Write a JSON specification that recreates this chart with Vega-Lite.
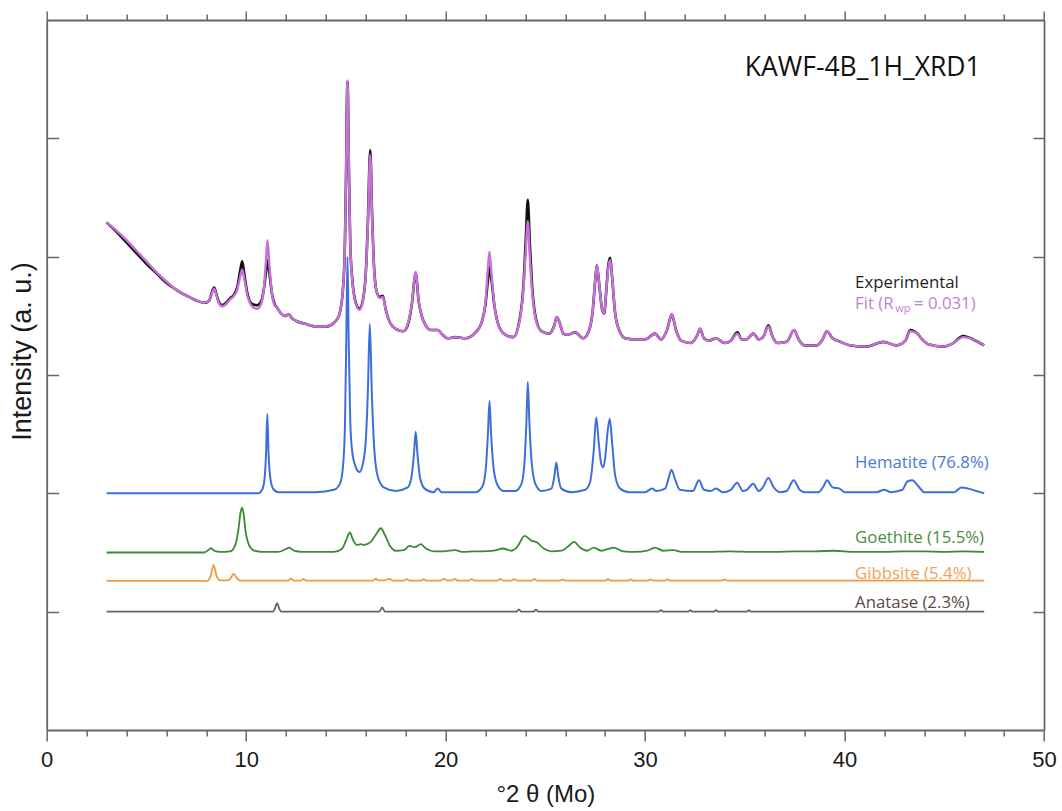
{
  "$schema": "https://vega.github.io/schema/vega-lite/v6.json",
  "width": 997.3,
  "height": 710,
  "autosize": "none",
  "padding": {"left": 46.7, "top": 20, "right": 18, "bottom": 81},
  "background": "white",
  "config": {"view": {"stroke": null}, "axis": {"grid": false}},
  "datasets": {
    "exp": [
      {"x":3.0,"y":4.29},{"x":3.5,"y":4.21},{"x":4.0,"y":4.12},{"x":4.5,"y":4.03},{"x":5.0,"y":3.94},{"x":5.5,"y":3.86},{"x":6.0,"y":3.78},{"x":6.5,"y":3.72},{"x":7.0,"y":3.67},{"x":7.5,"y":3.63},{"x":7.9,"y":3.61},{"x":8.15,"y":3.63},{"x":8.3,"y":3.71},{"x":8.4,"y":3.74},{"x":8.5,"y":3.69},{"x":8.65,"y":3.61},{"x":8.8,"y":3.59},{"x":9.0,"y":3.61},{"x":9.2,"y":3.65},{"x":9.35,"y":3.67},{"x":9.55,"y":3.74},{"x":9.7,"y":3.88},{"x":9.8,"y":3.96},{"x":9.9,"y":3.86},{"x":10.05,"y":3.70},{"x":10.3,"y":3.60},{"x":10.55,"y":3.59},{"x":10.75,"y":3.62},{"x":10.9,"y":3.74},{"x":11.0,"y":3.88},{"x":11.07,"y":3.97},{"x":11.15,"y":3.88},{"x":11.3,"y":3.68},{"x":11.45,"y":3.59},{"x":11.55,"y":3.57},{"x":11.7,"y":3.53},{"x":11.95,"y":3.50},{"x":12.12,"y":3.51},{"x":12.3,"y":3.48},{"x":12.6,"y":3.45},{"x":13.0,"y":3.43},{"x":13.5,"y":3.41},{"x":14.0,"y":3.41},{"x":14.4,"y":3.44},{"x":14.65,"y":3.50},{"x":14.85,"y":3.72},{"x":14.95,"y":4.10},{"x":15.0,"y":4.60},{"x":15.08,"y":5.48},{"x":15.16,"y":4.65},{"x":15.22,"y":4.10},{"x":15.32,"y":3.81},{"x":15.5,"y":3.61},{"x":15.68,"y":3.56},{"x":15.85,"y":3.63},{"x":16.0,"y":3.87},{"x":16.1,"y":4.28},{"x":16.22,"y":4.90},{"x":16.32,"y":4.32},{"x":16.42,"y":3.89},{"x":16.55,"y":3.70},{"x":16.7,"y":3.66},{"x":16.85,"y":3.67},{"x":17.0,"y":3.55},{"x":17.22,"y":3.44},{"x":17.5,"y":3.39},{"x":17.88,"y":3.37},{"x":18.1,"y":3.42},{"x":18.3,"y":3.59},{"x":18.5,"y":3.86},{"x":18.65,"y":3.62},{"x":18.8,"y":3.50},{"x":19.0,"y":3.42},{"x":19.25,"y":3.38},{"x":19.6,"y":3.38},{"x":19.85,"y":3.34},{"x":20.1,"y":3.31},{"x":20.5,"y":3.32},{"x":21.0,"y":3.31},{"x":21.5,"y":3.36},{"x":21.8,"y":3.44},{"x":22.0,"y":3.60},{"x":22.12,"y":3.80},{"x":22.2,"y":3.91},{"x":22.3,"y":3.80},{"x":22.45,"y":3.58},{"x":22.7,"y":3.40},{"x":23.0,"y":3.34},{"x":23.4,"y":3.32},{"x":23.7,"y":3.46},{"x":23.9,"y":3.75},{"x":24.02,"y":4.15},{"x":24.12,"y":4.48},{"x":24.22,"y":4.12},{"x":24.35,"y":3.72},{"x":24.55,"y":3.46},{"x":24.8,"y":3.37},{"x":25.2,"y":3.35},{"x":25.45,"y":3.42},{"x":25.57,"y":3.49},{"x":25.72,"y":3.44},{"x":25.9,"y":3.35},{"x":26.1,"y":3.34},{"x":26.5,"y":3.36},{"x":26.9,"y":3.31},{"x":27.2,"y":3.38},{"x":27.38,"y":3.55},{"x":27.5,"y":3.80},{"x":27.58,"y":3.93},{"x":27.68,"y":3.80},{"x":27.85,"y":3.55},{"x":27.95,"y":3.52},{"x":28.05,"y":3.70},{"x":28.15,"y":3.92},{"x":28.25,"y":3.99},{"x":28.35,"y":3.82},{"x":28.5,"y":3.52},{"x":28.7,"y":3.38},{"x":29.0,"y":3.31},{"x":29.5,"y":3.30},{"x":30.0,"y":3.30},{"x":30.5,"y":3.35},{"x":30.8,"y":3.30},{"x":31.1,"y":3.38},{"x":31.34,"y":3.51},{"x":31.55,"y":3.38},{"x":31.8,"y":3.29},{"x":32.3,"y":3.27},{"x":32.6,"y":3.33},{"x":32.76,"y":3.39},{"x":32.95,"y":3.31},{"x":33.2,"y":3.29},{"x":33.55,"y":3.31},{"x":34.0,"y":3.27},{"x":34.3,"y":3.29},{"x":34.63,"y":3.36},{"x":34.85,"y":3.30},{"x":35.05,"y":3.30},{"x":35.43,"y":3.35},{"x":35.7,"y":3.30},{"x":35.95,"y":3.33},{"x":36.18,"y":3.42},{"x":36.4,"y":3.32},{"x":36.65,"y":3.27},{"x":37.1,"y":3.28},{"x":37.47,"y":3.38},{"x":37.7,"y":3.30},{"x":38.0,"y":3.25},{"x":38.6,"y":3.25},{"x":38.9,"y":3.30},{"x":39.11,"y":3.37},{"x":39.4,"y":3.31},{"x":39.8,"y":3.28},{"x":40.3,"y":3.25},{"x":41.1,"y":3.24},{"x":41.95,"y":3.28},{"x":42.6,"y":3.25},{"x":43.05,"y":3.29},{"x":43.3,"y":3.38},{"x":43.65,"y":3.35},{"x":43.9,"y":3.30},{"x":44.2,"y":3.26},{"x":44.95,"y":3.24},{"x":45.45,"y":3.27},{"x":45.95,"y":3.33},{"x":46.45,"y":3.30},{"x":47.0,"y":3.25}
    ],
    "fit": [
      {"x":3.0,"y":4.29},{"x":3.5,"y":4.22},{"x":4.0,"y":4.14},{"x":4.5,"y":4.05},{"x":5.0,"y":3.96},{"x":5.5,"y":3.87},{"x":6.0,"y":3.79},{"x":6.5,"y":3.72},{"x":7.0,"y":3.67},{"x":7.5,"y":3.63},{"x":7.9,"y":3.61},{"x":8.15,"y":3.63},{"x":8.3,"y":3.70},{"x":8.4,"y":3.73},{"x":8.5,"y":3.68},{"x":8.65,"y":3.60},{"x":8.8,"y":3.58},{"x":9.0,"y":3.60},{"x":9.2,"y":3.64},{"x":9.35,"y":3.66},{"x":9.55,"y":3.72},{"x":9.7,"y":3.83},{"x":9.8,"y":3.89},{"x":9.9,"y":3.82},{"x":10.05,"y":3.68},{"x":10.3,"y":3.58},{"x":10.55,"y":3.56},{"x":10.75,"y":3.60},{"x":10.9,"y":3.75},{"x":11.0,"y":3.98},{"x":11.07,"y":4.14},{"x":11.15,"y":3.96},{"x":11.3,"y":3.68},{"x":11.45,"y":3.58},{"x":11.55,"y":3.57},{"x":11.7,"y":3.53},{"x":11.95,"y":3.50},{"x":12.12,"y":3.51},{"x":12.3,"y":3.48},{"x":12.6,"y":3.45},{"x":13.0,"y":3.43},{"x":13.5,"y":3.41},{"x":14.0,"y":3.41},{"x":14.4,"y":3.44},{"x":14.65,"y":3.50},{"x":14.85,"y":3.72},{"x":14.95,"y":4.10},{"x":15.0,"y":4.60},{"x":15.08,"y":5.49},{"x":15.16,"y":4.65},{"x":15.22,"y":4.10},{"x":15.32,"y":3.80},{"x":15.5,"y":3.60},{"x":15.68,"y":3.55},{"x":15.85,"y":3.62},{"x":16.0,"y":3.86},{"x":16.1,"y":4.25},{"x":16.22,"y":4.86},{"x":16.32,"y":4.30},{"x":16.42,"y":3.88},{"x":16.55,"y":3.70},{"x":16.7,"y":3.65},{"x":16.85,"y":3.66},{"x":17.0,"y":3.55},{"x":17.22,"y":3.44},{"x":17.5,"y":3.39},{"x":17.88,"y":3.37},{"x":18.1,"y":3.43},{"x":18.3,"y":3.60},{"x":18.5,"y":3.87},{"x":18.65,"y":3.62},{"x":18.8,"y":3.50},{"x":19.0,"y":3.42},{"x":19.25,"y":3.38},{"x":19.6,"y":3.38},{"x":19.85,"y":3.34},{"x":20.1,"y":3.31},{"x":20.5,"y":3.32},{"x":21.0,"y":3.31},{"x":21.5,"y":3.36},{"x":21.8,"y":3.44},{"x":22.0,"y":3.62},{"x":22.12,"y":3.90},{"x":22.2,"y":4.04},{"x":22.3,"y":3.85},{"x":22.45,"y":3.58},{"x":22.7,"y":3.40},{"x":23.0,"y":3.34},{"x":23.4,"y":3.32},{"x":23.7,"y":3.45},{"x":23.9,"y":3.72},{"x":24.02,"y":4.05},{"x":24.12,"y":4.30},{"x":24.22,"y":4.00},{"x":24.35,"y":3.68},{"x":24.55,"y":3.45},{"x":24.8,"y":3.37},{"x":25.2,"y":3.35},{"x":25.45,"y":3.42},{"x":25.57,"y":3.49},{"x":25.72,"y":3.44},{"x":25.9,"y":3.35},{"x":26.1,"y":3.34},{"x":26.5,"y":3.36},{"x":26.9,"y":3.31},{"x":27.2,"y":3.38},{"x":27.38,"y":3.55},{"x":27.5,"y":3.80},{"x":27.58,"y":3.93},{"x":27.68,"y":3.80},{"x":27.85,"y":3.55},{"x":27.95,"y":3.52},{"x":28.05,"y":3.70},{"x":28.15,"y":3.90},{"x":28.25,"y":3.97},{"x":28.35,"y":3.82},{"x":28.5,"y":3.52},{"x":28.7,"y":3.38},{"x":29.0,"y":3.31},{"x":29.5,"y":3.30},{"x":30.0,"y":3.30},{"x":30.5,"y":3.35},{"x":30.8,"y":3.30},{"x":31.1,"y":3.38},{"x":31.34,"y":3.51},{"x":31.55,"y":3.38},{"x":31.8,"y":3.29},{"x":32.3,"y":3.27},{"x":32.6,"y":3.33},{"x":32.76,"y":3.39},{"x":32.95,"y":3.31},{"x":33.2,"y":3.29},{"x":33.55,"y":3.31},{"x":34.0,"y":3.27},{"x":34.3,"y":3.29},{"x":34.63,"y":3.35},{"x":34.85,"y":3.30},{"x":35.05,"y":3.30},{"x":35.43,"y":3.35},{"x":35.7,"y":3.30},{"x":35.95,"y":3.33},{"x":36.18,"y":3.41},{"x":36.4,"y":3.32},{"x":36.65,"y":3.27},{"x":37.1,"y":3.28},{"x":37.47,"y":3.38},{"x":37.7,"y":3.30},{"x":38.0,"y":3.25},{"x":38.6,"y":3.25},{"x":38.9,"y":3.30},{"x":39.11,"y":3.37},{"x":39.4,"y":3.31},{"x":39.8,"y":3.28},{"x":40.3,"y":3.25},{"x":41.1,"y":3.24},{"x":41.95,"y":3.28},{"x":42.6,"y":3.25},{"x":43.05,"y":3.29},{"x":43.3,"y":3.37},{"x":43.65,"y":3.35},{"x":43.9,"y":3.30},{"x":44.2,"y":3.26},{"x":44.95,"y":3.24},{"x":45.45,"y":3.27},{"x":45.95,"y":3.32},{"x":46.45,"y":3.30},{"x":47.0,"y":3.25}
    ],
    "hematite": [
      {"x":3.0,"y":2.0},{"x":10.6,"y":2.0},{"x":10.8,"y":2.03},{"x":10.92,"y":2.12},{"x":11.0,"y":2.35},{"x":11.06,"y":2.67},{"x":11.12,"y":2.35},{"x":11.22,"y":2.12},{"x":11.35,"y":2.04},{"x":11.6,"y":2.01},{"x":13.5,"y":2.01},{"x":14.4,"y":2.03},{"x":14.7,"y":2.08},{"x":14.85,"y":2.22},{"x":14.95,"y":2.55},{"x":15.02,"y":3.30},{"x":15.08,"y":4.0},{"x":15.14,"y":3.30},{"x":15.22,"y":2.60},{"x":15.32,"y":2.35},{"x":15.5,"y":2.22},{"x":15.68,"y":2.18},{"x":15.85,"y":2.25},{"x":16.0,"y":2.45},{"x":16.1,"y":2.85},{"x":16.2,"y":3.43},{"x":16.3,"y":2.85},{"x":16.42,"y":2.38},{"x":16.6,"y":2.14},{"x":16.9,"y":2.05},{"x":17.5,"y":2.02},{"x":18.1,"y":2.05},{"x":18.3,"y":2.15},{"x":18.42,"y":2.35},{"x":18.5,"y":2.52},{"x":18.58,"y":2.35},{"x":18.72,"y":2.13},{"x":18.95,"y":2.04},{"x":19.4,"y":2.01},{"x":19.6,"y":2.04},{"x":19.8,"y":2.01},{"x":21.5,"y":2.01},{"x":21.85,"y":2.06},{"x":22.02,"y":2.22},{"x":22.12,"y":2.50},{"x":22.2,"y":2.78},{"x":22.28,"y":2.50},{"x":22.4,"y":2.22},{"x":22.6,"y":2.07},{"x":22.9,"y":2.02},{"x":23.5,"y":2.02},{"x":23.8,"y":2.08},{"x":23.95,"y":2.25},{"x":24.05,"y":2.60},{"x":24.12,"y":2.94},{"x":24.2,"y":2.60},{"x":24.32,"y":2.25},{"x":24.5,"y":2.08},{"x":24.8,"y":2.02},{"x":25.3,"y":2.04},{"x":25.45,"y":2.14},{"x":25.55,"y":2.26},{"x":25.65,"y":2.14},{"x":25.8,"y":2.04},{"x":26.3,"y":2.01},{"x":27.0,"y":2.03},{"x":27.25,"y":2.10},{"x":27.42,"y":2.35},{"x":27.55,"y":2.64},{"x":27.68,"y":2.42},{"x":27.8,"y":2.25},{"x":27.9,"y":2.22},{"x":28.0,"y":2.30},{"x":28.12,"y":2.52},{"x":28.23,"y":2.63},{"x":28.35,"y":2.42},{"x":28.5,"y":2.15},{"x":28.75,"y":2.04},{"x":29.2,"y":2.01},{"x":30.0,"y":2.01},{"x":30.35,"y":2.04},{"x":30.55,"y":2.02},{"x":31.0,"y":2.04},{"x":31.2,"y":2.14},{"x":31.32,"y":2.20},{"x":31.5,"y":2.12},{"x":31.75,"y":2.03},{"x":32.4,"y":2.02},{"x":32.7,"y":2.11},{"x":32.95,"y":2.03},{"x":33.3,"y":2.02},{"x":33.55,"y":2.04},{"x":33.9,"y":2.01},{"x":34.3,"y":2.03},{"x":34.62,"y":2.09},{"x":34.9,"y":2.02},{"x":35.1,"y":2.03},{"x":35.42,"y":2.08},{"x":35.7,"y":2.02},{"x":35.9,"y":2.05},{"x":36.18,"y":2.13},{"x":36.45,"y":2.05},{"x":36.75,"y":2.01},{"x":37.1,"y":2.02},{"x":37.45,"y":2.11},{"x":37.75,"y":2.03},{"x":38.0,"y":2.01},{"x":38.7,"y":2.01},{"x":38.95,"y":2.06},{"x":39.12,"y":2.11},{"x":39.4,"y":2.05},{"x":39.75,"y":2.04},{"x":40.0,"y":2.01},{"x":41.6,"y":2.01},{"x":42.0,"y":2.03},{"x":42.3,"y":2.01},{"x":42.9,"y":2.03},{"x":43.15,"y":2.10},{"x":43.4,"y":2.11},{"x":43.7,"y":2.06},{"x":44.0,"y":2.01},{"x":45.5,"y":2.01},{"x":45.85,"y":2.05},{"x":46.2,"y":2.04},{"x":46.6,"y":2.02},{"x":47.0,"y":2.0}
    ],
    "goethite": [
      {"x":3.0,"y":1.5},{"x":7.9,"y":1.5},{"x":8.1,"y":1.52},{"x":8.23,"y":1.537},{"x":8.4,"y":1.515},{"x":8.7,"y":1.505},{"x":9.2,"y":1.51},{"x":9.45,"y":1.56},{"x":9.6,"y":1.68},{"x":9.72,"y":1.84},{"x":9.79,"y":1.88},{"x":9.86,"y":1.84},{"x":9.97,"y":1.68},{"x":10.15,"y":1.56},{"x":10.4,"y":1.515},{"x":10.8,"y":1.505},{"x":11.6,"y":1.505},{"x":11.95,"y":1.525},{"x":12.16,"y":1.542},{"x":12.4,"y":1.515},{"x":12.8,"y":1.505},{"x":14.4,"y":1.505},{"x":14.8,"y":1.53},{"x":15.05,"y":1.62},{"x":15.2,"y":1.67},{"x":15.35,"y":1.61},{"x":15.55,"y":1.565},{"x":15.75,"y":1.57},{"x":15.91,"y":1.565},{"x":16.25,"y":1.59},{"x":16.5,"y":1.65},{"x":16.76,"y":1.705},{"x":16.95,"y":1.65},{"x":17.2,"y":1.56},{"x":17.5,"y":1.515},{"x":17.9,"y":1.52},{"x":18.19,"y":1.556},{"x":18.45,"y":1.545},{"x":18.76,"y":1.57},{"x":19.0,"y":1.535},{"x":19.4,"y":1.51},{"x":19.9,"y":1.51},{"x":20.46,"y":1.52},{"x":20.9,"y":1.505},{"x":21.4,"y":1.51},{"x":21.8,"y":1.51},{"x":22.4,"y":1.515},{"x":22.88,"y":1.534},{"x":23.3,"y":1.515},{"x":23.6,"y":1.55},{"x":23.96,"y":1.64},{"x":24.3,"y":1.6},{"x":24.59,"y":1.585},{"x":24.9,"y":1.535},{"x":25.3,"y":1.51},{"x":25.8,"y":1.515},{"x":26.2,"y":1.56},{"x":26.44,"y":1.59},{"x":26.75,"y":1.54},{"x":27.1,"y":1.515},{"x":27.43,"y":1.542},{"x":27.8,"y":1.515},{"x":28.43,"y":1.542},{"x":28.9,"y":1.51},{"x":29.5,"y":1.505},{"x":30.1,"y":1.515},{"x":30.5,"y":1.542},{"x":30.9,"y":1.515},{"x":31.41,"y":1.52},{"x":31.9,"y":1.505},{"x":33.0,"y":1.505},{"x":34.2,"y":1.51},{"x":35.5,"y":1.505},{"x":36.5,"y":1.505},{"x":37.5,"y":1.51},{"x":38.5,"y":1.51},{"x":39.5,"y":1.515},{"x":40.5,"y":1.505},{"x":42.0,"y":1.505},{"x":43.0,"y":1.51},{"x":44.0,"y":1.51},{"x":45.0,"y":1.505},{"x":46.0,"y":1.51},{"x":47.0,"y":1.505}
    ],
    "gibbsite": [
      {"x":3.0,"y":1.26},{"x":8.05,"y":1.26},{"x":8.22,"y":1.3},{"x":8.37,"y":1.395},{"x":8.52,"y":1.3},{"x":8.7,"y":1.265},{"x":9.1,"y":1.265},{"x":9.25,"y":1.29},{"x":9.37,"y":1.32},{"x":9.5,"y":1.29},{"x":9.7,"y":1.262},{"x":12.1,"y":1.262},{"x":12.24,"y":1.278},{"x":12.4,"y":1.262},{"x":12.73,"y":1.262},{"x":12.87,"y":1.276},{"x":13.0,"y":1.262},{"x":16.35,"y":1.262},{"x":16.48,"y":1.278},{"x":16.65,"y":1.265},{"x":16.9,"y":1.265},{"x":17.19,"y":1.276},{"x":17.35,"y":1.262},{"x":17.9,"y":1.262},{"x":18.05,"y":1.275},{"x":18.2,"y":1.262},{"x":18.75,"y":1.262},{"x":18.9,"y":1.274},{"x":19.05,"y":1.262},{"x":19.75,"y":1.262},{"x":19.9,"y":1.277},{"x":20.1,"y":1.264},{"x":20.3,"y":1.264},{"x":20.46,"y":1.277},{"x":20.6,"y":1.262},{"x":21.15,"y":1.262},{"x":21.31,"y":1.275},{"x":21.45,"y":1.262},{"x":22.6,"y":1.262},{"x":22.74,"y":1.276},{"x":22.9,"y":1.262},{"x":23.3,"y":1.262},{"x":23.45,"y":1.275},{"x":23.6,"y":1.262},{"x":24.3,"y":1.262},{"x":24.45,"y":1.276},{"x":24.6,"y":1.262},{"x":25.75,"y":1.262},{"x":25.87,"y":1.272},{"x":26.0,"y":1.262},{"x":28.0,"y":1.262},{"x":28.14,"y":1.274},{"x":28.3,"y":1.262},{"x":29.15,"y":1.262},{"x":29.28,"y":1.273},{"x":29.4,"y":1.262},{"x":30.15,"y":1.262},{"x":30.28,"y":1.272},{"x":30.4,"y":1.262},{"x":31.0,"y":1.262},{"x":31.13,"y":1.273},{"x":31.25,"y":1.262},{"x":33.85,"y":1.262},{"x":33.98,"y":1.272},{"x":34.1,"y":1.262},{"x":47.0,"y":1.262}
    ],
    "anatase": [
      {"x":3.0,"y":1.0},{"x":11.35,"y":1.0},{"x":11.45,"y":1.03},{"x":11.55,"y":1.073},{"x":11.65,"y":1.03},{"x":11.75,"y":1.0},{"x":16.68,"y":1.0},{"x":16.82,"y":1.037},{"x":16.96,"y":1.0},{"x":23.55,"y":1.0},{"x":23.67,"y":1.02},{"x":23.79,"y":1.0},{"x":24.41,"y":1.0},{"x":24.53,"y":1.018},{"x":24.65,"y":1.0},{"x":30.68,"y":1.0},{"x":30.79,"y":1.012},{"x":30.9,"y":1.0},{"x":32.17,"y":1.0},{"x":32.27,"y":1.012},{"x":32.37,"y":1.0},{"x":33.45,"y":1.0},{"x":33.55,"y":1.012},{"x":33.65,"y":1.0},{"x":35.1,"y":1.0},{"x":35.2,"y":1.012},{"x":35.3,"y":1.0},{"x":47.0,"y":1.0}
    ],
    "labels": [
      {"t":"Experimental","s":"Experimental","x":40.53,"y":3.78},
      {"t":"Fit (R","s":"Fit","x":40.53,"y":3.6},
      {"t":"= 0.031)","s":"Fit","x":43.48,"y":3.6},
      {"t":"Hematite (76.8%)","s":"Hematite","x":40.53,"y":2.256},
      {"t":"Goethite (15.5%)","s":"Goethite","x":40.53,"y":1.623},
      {"t":"Gibbsite (5.4%)","s":"Gibbsite","x":40.53,"y":1.318},
      {"t":"Anatase (2.3%)","s":"Anatase","x":40.53,"y":1.073}
    ],
    "sub": [{"t":"wp","x":42.54,"y":3.558}],
    "title": [{"t":"KAWF-4B_1H_XRD1","x":35.0,"y":5.594}]
  },
  "layer": [
    {
      "data": {"name": "exp"},
      "mark": {"type": "line", "color": "#111111", "strokeWidth": 2.6, "interpolate": "monotone"},
      "encoding": {
        "x": {"field": "x", "type": "quantitative", "scale": {"domain": [0, 50], "nice": false},
          "axis": {"orient": "bottom", "values": [0,10,20,30,40,50], "tickSize": 11, "tickWidth": 1.5, "tickColor": "#666666",
            "domainColor": "#666666", "domainWidth": 1.8, "labelFont": "Liberation Sans", "labelFontSize": 22, "labelColor": "#1a1a1a",
            "labelPadding": 8, "labelFlush": false, "labelOverlap": false, "labelBound": false,
            "title": "°2 θ (Mo)", "titleFont": "Liberation Sans", "titleFontSize": 24, "titleFontWeight": "normal", "titleColor": "#1a1a1a", "titlePadding": 12}},
        "y": {"field": "y", "type": "quantitative", "scale": {"domain": [0, 6], "nice": false},
          "axis": {"orient": "left", "values": [1,2,3,4,5], "tickSize": -12, "tickWidth": 1.5, "tickColor": "#666666",
            "domainColor": "#666666", "domainWidth": 1.8, "labels": false,
            "title": "Intensity (a. u.)", "titleFont": "Liberation Sans", "titleFontSize": 27, "titleFontWeight": "normal", "titleColor": "#1a1a1a",
            "titleX": -24, "titleY": 331, "titleAngle": -90, "titleAlign": "center", "titleBaseline": "middle"}}
      }
    },
    {
      "data": {"name": "fit"},
      "mark": {"type": "line", "color": "#c770d8", "strokeWidth": 2.4, "interpolate": "monotone"},
      "encoding": {
        "x": {"field": "x", "type": "quantitative", "scale": {"domain": [0, 50], "nice": false},
          "axis": {"orient": "bottom", "values": [2,4,6,8,12,14,16,18,22,24,26,28,32,34,36,38,42,44,46,48], "tickSize": 6, "tickWidth": 1.5, "tickColor": "#666666",
            "domain": false, "labels": false, "title": null}},
        "y": {"field": "y", "type": "quantitative", "scale": {"domain": [0, 6], "nice": false},
          "axis": {"orient": "right", "values": [1,2,3,4,5], "tickSize": -11, "tickWidth": 1.5, "tickColor": "#666666",
            "domainColor": "#666666", "domainWidth": 1.8, "labels": false, "title": null}}
      }
    },
    {
      "data": {"name": "hematite"},
      "mark": {"type": "line", "color": "#3c6fdc", "strokeWidth": 2, "interpolate": "monotone"},
      "encoding": {
        "x": {"field": "x", "type": "quantitative", "scale": {"domain": [0, 50], "nice": false},
          "axis": {"orient": "top", "values": [0,10,20,30,40,50], "tickSize": 9, "tickWidth": 1.5, "tickColor": "#666666",
            "domainColor": "#666666", "domainWidth": 1.8, "labels": false, "title": null}},
        "y": {"field": "y", "type": "quantitative", "scale": {"domain": [0, 6], "nice": false}, "axis": null}
      }
    },
    {
      "data": {"name": "goethite"},
      "mark": {"type": "line", "color": "#3b8a33", "strokeWidth": 1.8, "interpolate": "monotone"},
      "encoding": {
        "x": {"field": "x", "type": "quantitative", "scale": {"domain": [0, 50], "nice": false},
          "axis": {"orient": "top", "values": [2,4,6,8,12,14,16,18,22,24,26,28,32,34,36,38,42,44,46,48], "tickSize": 6, "tickWidth": 1.5, "tickColor": "#666666",
            "domain": false, "labels": false, "title": null}},
        "y": {"field": "y", "type": "quantitative", "scale": {"domain": [0, 6], "nice": false}, "axis": null}
      }
    },
    {
      "data": {"name": "gibbsite"},
      "mark": {"type": "line", "color": "#f4983f", "strokeWidth": 1.8, "interpolate": "monotone"},
      "encoding": {
        "x": {"field": "x", "type": "quantitative", "scale": {"domain": [0, 50], "nice": false}, "axis": null},
        "y": {"field": "y", "type": "quantitative", "scale": {"domain": [0, 6], "nice": false}, "axis": null}
      }
    },
    {
      "data": {"name": "anatase"},
      "mark": {"type": "line", "color": "#6f5e5b", "strokeWidth": 1.8, "interpolate": "monotone"},
      "encoding": {
        "x": {"field": "x", "type": "quantitative", "scale": {"domain": [0, 50], "nice": false}, "axis": null},
        "y": {"field": "y", "type": "quantitative", "scale": {"domain": [0, 6], "nice": false}, "axis": null}
      }
    },
    {
      "data": {"name": "labels"},
      "mark": {"type": "text", "align": "left", "baseline": "middle", "font": "Open Sans", "fontSize": 16.8},
      "encoding": {
        "x": {"field": "x", "type": "quantitative", "scale": {"domain": [0, 50], "nice": false}, "axis": null},
        "y": {"field": "y", "type": "quantitative", "scale": {"domain": [0, 6], "nice": false}, "axis": null},
        "text": {"field": "t"},
        "color": {"field": "s", "type": "nominal", "legend": null,
          "scale": {"domain": ["Experimental","Fit","Hematite","Goethite","Gibbsite","Anatase"],
                    "range": ["#1e1e1e","#c47fd4","#4a7ad8","#4c8c3f","#f0a255","#594a47"]}}
      }
    },
    {
      "data": {"name": "sub"},
      "mark": {"type": "text", "align": "left", "baseline": "middle", "font": "Open Sans", "fontSize": 11, "color": "#c47fd4"},
      "encoding": {
        "x": {"field": "x", "type": "quantitative", "scale": {"domain": [0, 50], "nice": false}, "axis": null},
        "y": {"field": "y", "type": "quantitative", "scale": {"domain": [0, 6], "nice": false}, "axis": null},
        "text": {"field": "t"}
      }
    },
    {
      "data": {"name": "title"},
      "mark": {"type": "text", "align": "left", "baseline": "middle", "font": "Open Sans", "fontSize": 26.5, "color": "#111111"},
      "encoding": {
        "x": {"field": "x", "type": "quantitative", "scale": {"domain": [0, 50], "nice": false}, "axis": null},
        "y": {"field": "y", "type": "quantitative", "scale": {"domain": [0, 6], "nice": false}, "axis": null},
        "text": {"field": "t"}
      }
    }
  ],
  "resolve": {"axis": {"x": "independent", "y": "independent"}, "scale": {"color": "independent"}}
}
